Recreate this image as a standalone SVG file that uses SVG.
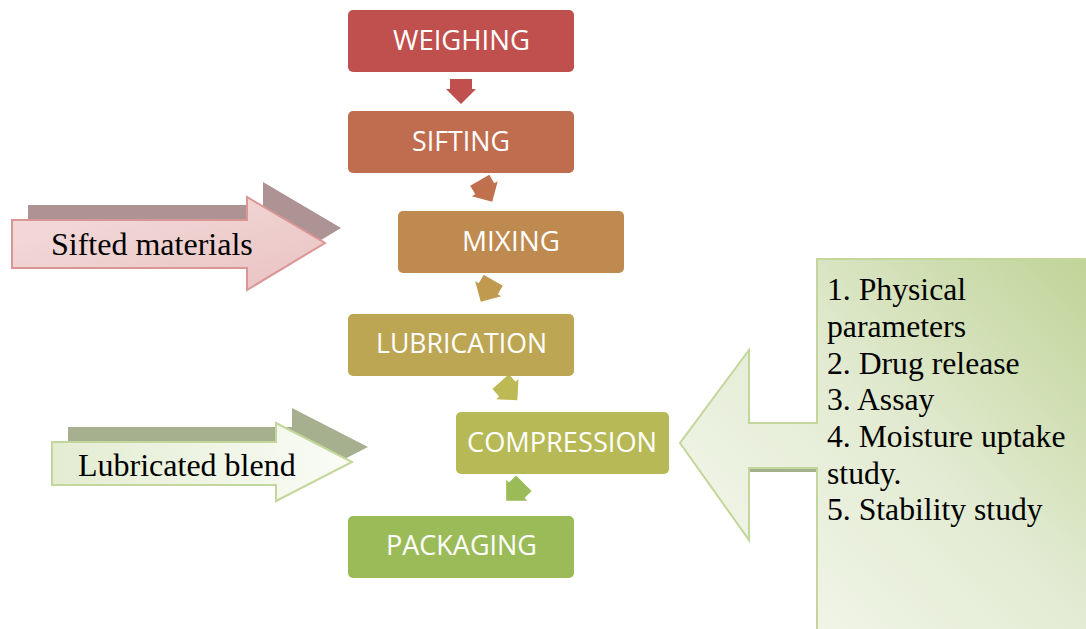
<svg xmlns="http://www.w3.org/2000/svg" width="1086" height="629" viewBox="0 0 1086 629">
<defs>
<style>
.box{stroke:none}
.lbl{font-family:"Open Sans","Liberation Sans",sans-serif;font-size:28px;fill:#FFFFFF;text-anchor:middle}
.ser{font-family:"Liberation Serif","Times New Roman",serif;font-size:31.7px;fill:#000000}
.big{font-size:32px}
</style>
<path id="dn" d="M-11,-12.5 H11 V-2.5 H15 L0,12.5 L-15,-2.5 H-11 Z"/>
<linearGradient id="gPink" x1="0" y1="0" x2="1" y2="1">
<stop offset="0" stop-color="#F3DDDC"/>
<stop offset="1" stop-color="#E9C3C2"/>
</linearGradient>
<linearGradient id="gLub" x1="0" y1="0" x2="1" y2="0">
<stop offset="0" stop-color="#E3ECD1"/>
<stop offset="1" stop-color="#FAFCF6"/>
</linearGradient>
<linearGradient id="gCall" gradientUnits="userSpaceOnUse" x1="1086" y1="259" x2="760" y2="600">
<stop offset="0" stop-color="#C0D498"/>
<stop offset="0.55" stop-color="#E3EBD3"/>
<stop offset="1" stop-color="#F1F5E8"/>
</linearGradient>
</defs>
<rect width="1086" height="629" fill="#FFFFFF"/>

<g id="connectors">
<use href="#dn" transform="translate(461,91.5)" fill="#C0504D"/>
<use href="#dn" transform="translate(486,191) rotate(-30)" fill="#C0704D"/>
<use href="#dn" transform="translate(487,291) rotate(30)" fill="#BF9A4F"/>
<use href="#dn" transform="translate(509,391) rotate(-42)" fill="#BDBA55"/>
<use href="#dn" transform="translate(515,492) rotate(45)" fill="#9BBB59"/>
</g>

<g id="weighing">
<rect class="box" x="348" y="10" width="226" height="62" rx="5" fill="#C0504D"/>
<text class="lbl" x="461.5" y="50" textLength="137" lengthAdjust="spacingAndGlyphs">WEIGHING</text>
</g>
<g id="sifting">
<rect class="box" x="348" y="111" width="226" height="62" rx="5" fill="#BF6D4E"/>
<text class="lbl" x="461" y="151" textLength="98" lengthAdjust="spacingAndGlyphs">SIFTING</text>
</g>
<g id="mixing">
<rect class="box" x="398" y="211" width="226" height="62" rx="5" fill="#BE8A4F"/>
<text class="lbl" x="511" y="251" textLength="98" lengthAdjust="spacingAndGlyphs">MIXING</text>
</g>
<g id="lubrication">
<rect class="box" x="348" y="314" width="226" height="62" rx="5" fill="#BDA653"/>
<text class="lbl" x="461.5" y="353" textLength="171" lengthAdjust="spacingAndGlyphs">LUBRICATION</text>
</g>
<g id="compression">
<rect class="box" x="456" y="412" width="213" height="62" rx="5" fill="#B7B956"/>
<text class="lbl" x="562" y="452" textLength="190" lengthAdjust="spacingAndGlyphs">COMPRESSION</text>
</g>
<g id="packaging">
<rect class="box" x="348" y="516" width="226" height="62" rx="5" fill="#9BBB59"/>
<text class="lbl" x="461.5" y="555" textLength="151" lengthAdjust="spacingAndGlyphs">PACKAGING</text>
</g>

<g id="sifted-materials">
<path d="M12,220 H247 V197 L325,243 L247,290 V268 H12 Z" transform="translate(16,-15)" fill="#AD9393"/>
<path d="M12,220 H247 V197 L325,243 L247,290 V268 H12 Z" fill="url(#gPink)" stroke="#D99694" stroke-width="2"/>
<text class="ser big" x="51" y="255">Sifted materials</text>
</g>

<g id="lubricated-blend">
<path d="M52,442 H276 V423 L352,462 L276,501 V485 H52 Z" transform="translate(16,-15)" fill="#A6B08F"/>
<path d="M52,442 H276 V423 L352,462 L276,501 V485 H52 Z" fill="url(#gLub)" stroke="#C3D69B" stroke-width="2"/>
<text class="ser big" x="78" y="476">Lubricated blend</text>
</g>

<g id="tests">
<path d="M749,470 H817" stroke="#A3B08C" stroke-width="4" fill="none"/>
<path d="M817,259 H1090 V632 H817 V468 H749 V540 L680,443 L749,350 V423 H817 Z" fill="url(#gCall)" stroke="#C3D69B" stroke-width="2"/>
<text class="ser" x="827" y="300">1. Physical</text>
<text class="ser" x="827" y="337">parameters</text>
<text class="ser" x="827" y="374">2. Drug release</text>
<text class="ser" x="827" y="410">3. Assay</text>
<text class="ser" x="827" y="447">4. Moisture uptake</text>
<text class="ser" x="827" y="484">study.</text>
<text class="ser" x="827" y="520">5. Stability study</text>
</g>
</svg>
